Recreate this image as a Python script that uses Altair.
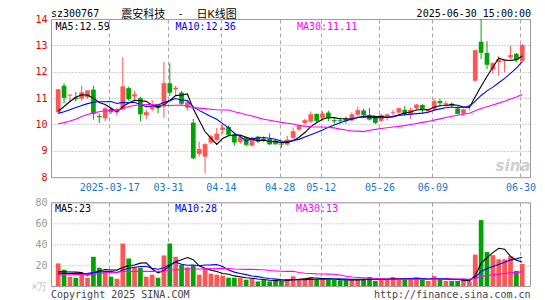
import altair as alt
import pandas as pd

# ---------------- data ----------------
holidays = ["2025-04-04", "2025-05-01", "2025-05-02", "2025-05-05", "2025-06-02"]
dates = [d.strftime("%Y-%m-%d") for d in pd.bdate_range("2025-03-04", "2025-06-30")
         if d.strftime("%Y-%m-%d") not in holidays]

open_p = [10.46, 11.47, 11.10, 11.02, 10.98, 11.03, 11.32, 10.32, 10.23, 10.60,
          10.46, 10.59, 11.38, 11.06, 11.00, 10.35, 10.58, 10.78, 10.68, 11.56,
          11.33, 11.21, 10.63, 10.07, 8.88, 8.78, 9.31, 9.41, 9.79, 9.91,
          9.62, 9.33, 9.52, 9.20, 9.54, 9.46, 9.45, 9.39, 9.27, 9.24,
          9.49, 9.81, 10.05, 10.11, 10.40, 10.25, 10.45, 10.16, 10.16, 10.21,
          10.15, 10.37, 10.53, 10.32, 10.25, 10.14, 10.30, 10.44, 10.45, 10.56,
          10.37, 10.61, 10.74, 10.49, 10.59, 10.89, 10.74, 10.79, 10.61, 10.41,
          10.71, 11.66, 13.14, 12.71, 12.08, 12.36, 12.41, 12.55, 12.68, 12.41]
high_p = [11.35, 11.56, 11.13, 11.24, 11.47, 11.28, 11.47, 10.40, 10.68, 10.65,
          10.63, 12.55, 11.43, 11.28, 11.05, 10.56, 10.93, 10.78, 12.37, 12.32,
          11.47, 11.28, 10.93, 10.21, 9.35, 9.29, 9.62, 9.87, 10.02, 9.96,
          9.67, 9.58, 9.54, 9.54, 9.57, 9.55, 9.67, 9.42, 9.35, 9.57,
          9.89, 9.98, 10.22, 10.49, 10.42, 10.50, 10.52, 10.25, 10.25, 10.30,
          10.46, 10.68, 10.60, 10.63, 10.32, 10.40, 10.40, 10.55, 10.65, 10.70,
          10.64, 10.77, 10.77, 10.59, 10.99, 10.97, 10.90, 10.84, 10.69, 10.59,
          10.77, 12.81, 14.00, 13.16, 12.36, 12.61, 12.46, 12.99, 12.71, 13.06]
low_p = [10.45, 10.80, 10.84, 10.88, 10.90, 10.97, 10.18, 10.05, 10.12, 10.40,
         10.34, 10.53, 10.90, 10.88, 10.12, 10.20, 10.50, 10.42, 10.25, 11.08,
         11.09, 10.75, 10.53, 8.68, 8.78, 8.15, 9.26, 9.36, 9.64, 9.54,
         9.19, 9.26, 9.17, 9.17, 9.29, 9.33, 9.23, 9.24, 9.11, 9.20,
         9.39, 9.75, 10.00, 10.07, 10.07, 10.15, 10.13, 10.02, 10.04, 10.04,
         10.12, 10.30, 10.25, 10.15, 10.02, 10.09, 10.15, 10.32, 10.40, 10.32,
         10.21, 10.56, 10.41, 10.44, 10.54, 10.69, 10.68, 10.69, 10.39, 10.36,
         10.53, 11.62, 12.48, 12.10, 11.91, 11.85, 11.98, 12.46, 12.36, 12.38]
close_p = [11.32, 11.02, 11.12, 10.97, 11.21, 11.28, 10.42, 10.29, 10.60, 10.49,
           10.58, 11.43, 10.97, 11.13, 10.40, 10.45, 10.68, 10.63, 11.56, 11.22,
           11.38, 10.80, 10.83, 8.73, 9.06, 9.24, 9.54, 9.64, 9.87, 9.62,
           9.33, 9.52, 9.24, 9.49, 9.36, 9.42, 9.26, 9.26, 9.25, 9.41,
           9.73, 9.93, 10.15, 10.37, 10.15, 10.40, 10.25, 10.13, 10.14, 10.15,
           10.37, 10.53, 10.37, 10.20, 10.07, 10.35, 10.37, 10.45, 10.60, 10.40,
           10.55, 10.74, 10.56, 10.55, 10.87, 10.82, 10.79, 10.74, 10.41, 10.56,
           10.72, 12.81, 12.73, 12.28, 12.31, 12.46, 12.45, 12.62, 12.46, 13.00]
volume = [21.6, 15.6, 8.9, 7.9, 10.8, 7.9, 27.9, 17.5, 14.6, 8.9,
          7.0, 40.6, 26.3, 17.8, 17.5, 8.9, 10.8, 7.9, 29.2, 40.6,
          27.9, 20.3, 17.8, 19.4, 10.8, 16.2, 11.8, 10.8, 9.8, 7.9,
          7.9, 7.9, 6.0, 7.0, 4.4, 5.7, 4.4, 5.1, 4.4, 6.4,
          9.3, 6.4, 7.4, 8.6, 6.5, 6.5, 6.2, 5.7, 5.4, 5.4,
          6.5, 6.3, 6.5, 8.6, 4.8, 7.4, 5.9, 8.6, 7.4, 6.8,
          7.4, 7.4, 6.2, 4.8, 9.5, 7.4, 4.8, 4.8, 4.8, 5.9,
          4.5, 30.0, 63.0, 32.5, 29.5, 25.5, 25.5, 28.5, 14.5, 21.0]

ma5_head = [10.50, 10.68, 10.87, 11.03]
ma10_head = [10.42, 10.48, 10.56, 10.64, 10.72, 10.79, 10.84, 10.86, 10.86]
ma30_head = [10.03, 10.07, 10.13, 10.20, 10.30, 10.38, 10.44, 10.48, 10.52, 10.53,
             10.54, 10.60, 10.68, 10.72, 10.75, 10.76, 10.76, 10.74, 10.72, 10.72,
             10.73, 10.74, 10.70, 10.64, 10.62, 10.60, 10.58, 10.56, 10.55]
vol_ma5_head = [13.5, 13.5, 13.4, 13.3]
vol_ma10_head = [12.0, 12.0, 11.9, 11.8, 11.9, 12.1, 12.8, 13.4, 13.9]
vol_ma30_head = [10.8, 10.8, 10.8, 10.9, 11.0, 11.2, 11.5, 12.0, 12.6, 13.0,
                 13.3, 13.8, 14.0, 14.0, 14.0, 14.0, 14.0, 14.0, 14.4, 15.0,
                 15.6, 16.0, 16.2, 16.3, 16.3, 16.4, 16.5, 16.6, 16.6]

tick_dates = ["2025-03-17", "2025-03-31", "2025-04-14", "2025-04-28",
              "2025-05-12", "2025-05-26", "2025-06-09", "2025-06-30"]
tick_labels = ["2025-03-17", "03-31", "04-14", "04-28", "05-12", "05-26", "06-09", "06-30"]

price_ticks = [8, 9, 10, 11, 12, 13, 14]
vol_ticks = [0, 20, 40, 60, 80]

ma_price_labels = ["MA5:12.59", "MA10:12.36", "MA30:11.11"]
ma_vol_labels = ["MA5:23", "MA10:28", "MA30:13"]
title_code = "sz300767"
title_name_a = "震安科技"
title_dash = "-"
title_name_b = "日K线图"
title_time = "2025-06-30 15:00:00"
copyright_text = "Copyright 2025 SINA.COM"
url_text = "http://finance.sina.com.cn"
unit_text = "×万"

# ---------------- styles ----------------
UP, DOWN = "#ff5555", "#00a400"
MA_COLORS = ["#000000", "#0000ff", "#ff00ff"]
GRID = "#a8a8a8"
FRAME = "#999999"
XLAB = "#1778c8"
MONO = "DejaVu Sans Mono"
CJK = "Liberation Sans, Noto Sans CJK SC"
W, H1, H2 = 479, 158.2, 83.7
GRID_SHIFT = -0.3


def moving(values, n, head):
    out = list(head)
    for i in range(len(head), len(values)):
        out.append(sum(values[i - n + 1:i + 1]) / n)
    return out


n = len(close_p)
candles = pd.DataFrame({
    "idx": list(range(n)), "date": dates[:n], "open": open_p, "high": high_p,
    "low": low_p, "close": close_p, "vol": volume,
    "dir": ["up" if c >= o else "down" for o, c in zip(open_p, close_p)],
})

names = ["MA5", "MA10", "MA30"]
price_ma = pd.concat([
    pd.DataFrame({"idx": list(range(n)), "value": moving(close_p, w, h), "series": nm})
    for nm, w, h in zip(names, [5, 10, 30], [ma5_head, ma10_head, ma30_head])
])
vol_ma = pd.concat([
    pd.DataFrame({"idx": list(range(n)), "value": moving(volume, w, h), "series": nm})
    for nm, w, h in zip(names, [5, 10, 30], [vol_ma5_head, vol_ma10_head, vol_ma30_head])
])

tick_vals = [dates.index(d) + GRID_SHIFT for d in tick_dates]
label_expr = "''"
for v, t in reversed(list(zip(tick_vals, tick_labels))):
    label_expr = f"abs(datum.value - {v}) < 0.5 ? '{t}' : ({label_expr})"

color_scale = alt.Scale(domain=["up", "down"] + names, range=[UP, DOWN] + MA_COLORS)
x_scale = alt.Scale(domain=[-0.37, 79.47], nice=False, zero=False)

price_xaxis = alt.Axis(values=tick_vals, labelExpr=label_expr, grid=True, gridDash=[4, 3],
                       gridColor=GRID, domain=False, ticks=False, tickSize=0,
                       labelColor=XLAB, labelFont=MONO, labelFontSize=10, labelPadding=5,
                       labelFlush=6, labelFlushOffset=-2, labelOverlap=False, labelAngle=0,
                       title=None)
vol_xaxis = alt.Axis(values=tick_vals, labels=False, grid=True, gridDash=[4, 3],
                     gridColor=GRID, domain=False, ticks=False, tickSize=0, title=None)
price_yaxis = alt.Axis(values=price_ticks, grid=True, gridDash=[1, 2], gridColor=GRID,
                       domain=False, ticks=False, tickSize=0, labelColor="#e00000",
                       labelFont=MONO, labelFontSize=10, labelPadding=4, format="d",
                       labelOverlap=False, title=None)
vol_yaxis = alt.Axis(values=vol_ticks, grid=True, gridDash=[1, 2], gridColor=GRID,
                     domain=False, ticks=False, tickSize=0,
                     labelColor=alt.condition("datum.value == 0", alt.value("#bdbdbd"), alt.value("#999999")),
                     labelExpr=f"datum.value == 0 ? '{unit_text}' : datum.label",
                     labelFont=MONO, labelFontSize=10, labelPadding=4,
                     labelOverlap=False, title=None)

xp = alt.X("idx:Q", scale=x_scale, axis=price_xaxis)
xv = alt.X("idx:Q", scale=x_scale, axis=vol_xaxis)
yp_scale = alt.Scale(domain=[8, 14], nice=False, zero=False)
yv_scale = alt.Scale(domain=[0, 80], nice=False)
col = alt.Color("dir:N", scale=color_scale, legend=None)


def label(text, x, y, color="#000000", size=10, align="left", font=MONO, **kw):
    return alt.Chart(pd.DataFrame({"t": [text]})).mark_text(
        align=align, baseline="alphabetic", font=font, fontSize=size, color=color, **kw
    ).encode(x=alt.value(x), y=alt.value(y), text="t:N")


wicks = alt.Chart(candles).mark_rule(strokeWidth=1).encode(
    x=xp, y=alt.Y("low:Q", scale=yp_scale, axis=price_yaxis), y2="high:Q", color=col)
bodies = alt.Chart(candles).mark_bar(size=4.7).encode(
    x=xp, y=alt.Y("open:Q", scale=yp_scale, axis=price_yaxis), y2="close:Q", color=col)
dashes = alt.Chart(candles).mark_tick(orient="horizontal", size=4.7, thickness=1).encode(
    x=xp, y=alt.Y("close:Q", scale=yp_scale, axis=price_yaxis), color=col)
plines = alt.Chart(price_ma).mark_line(strokeWidth=1.1).encode(
    x=xp, y=alt.Y("value:Q", scale=yp_scale, axis=price_yaxis),
    color=alt.Color("series:N", scale=color_scale, legend=None), detail="series:N")

ma_x = [4.5, 124.5, 246]
price_texts = [label(t, x, 10.6, c) for t, x, c in zip(ma_price_labels, ma_x, MA_COLORS)]
price_texts += [
    label(title_code, 0, -2.5),
    label(title_name_a, 70.2, -1.1, size=11, font=CJK),
    label(title_dash, 126.5, -2.5, size=10, font=MONO),
    label(title_name_b, 145.4, -1.1, size=11, font=CJK),
    label(title_time, 480, -2.5, align="right"),
    label("sina", 462, 151.5, color="#cfcfcf", size=15, align="center",
          font="DejaVu Sans", fontStyle="italic", fontWeight="bold"),
]

price = alt.layer(wicks, bodies, dashes, plines, *price_texts).properties(width=W, height=H1)

vbars = alt.Chart(candles).mark_bar(size=4.7).encode(
    x=xv, y=alt.Y("vol:Q", scale=yv_scale, axis=vol_yaxis), color=col)
vlines = alt.Chart(vol_ma).mark_line(strokeWidth=1.1).encode(
    x=xv, y=alt.Y("value:Q", scale=yv_scale, axis=vol_yaxis),
    color=alt.Color("series:N", scale=color_scale, legend=None), detail="series:N")
vol_x = [4, 124, 245]
vol_texts = [label(t, x, 9.5, c) for t, x, c in zip(ma_vol_labels, vol_x, MA_COLORS)]
vol_texts += [
    label(copyright_text, 0, 95.5, color="#444444"),
    label(url_text, 479.5, 95.5, color="#444444", align="right"),
]
vol = alt.layer(vbars, vlines, *vol_texts).properties(width=W, height=H2)

chart = alt.vconcat(price, vol, spacing=24.3, bounds="flush").properties(
    padding={"left": 22, "top": 0, "right": 0, "bottom": 0}
).configure_view(stroke=FRAME, strokeWidth=1)

chart.save("out.html", embed_options={"renderer": "svg", "actions": False})
